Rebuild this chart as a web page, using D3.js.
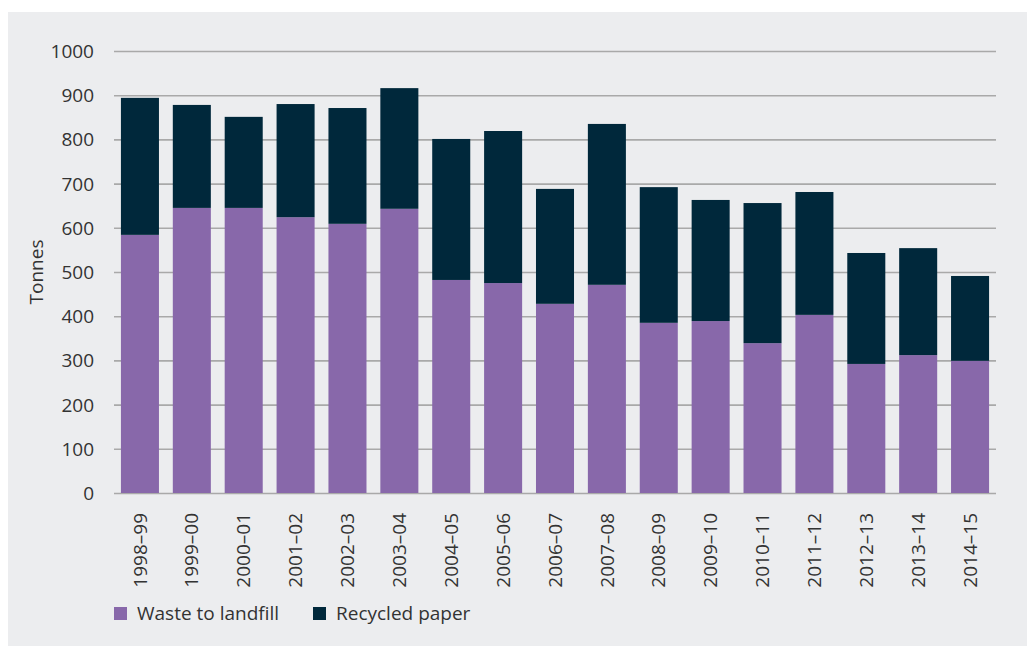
<!DOCTYPE html>
<html>
<head>
<meta charset="utf-8">
<script src="https://cdn.jsdelivr.net/npm/d3@7"></script>
<style>
  body { margin: 0; background: #fff; }
  text { font-family: "Open Sans", sans-serif; }
</style>
</head>
<body>
<script>
var years = ["1998\u201399", "1999\u201300", "2000\u201301", "2001\u201302", "2002\u201303", "2003\u201304",
             "2004\u201305", "2005\u201306", "2006\u201307", "2007\u201308", "2008\u201309", "2009\u201310",
             "2010\u201311", "2011\u201312", "2012\u201313", "2013\u201314", "2014\u201315"];
var landfill = [584, 645, 645, 624, 609, 643, 482, 475, 428, 471, 385, 389, 339, 403, 292, 312, 299];
var recycled = [310, 233, 206, 256, 262, 273, 319, 344, 260, 364, 307, 274, 317, 278, 251, 242, 192];
var yTicks = [0, 100, 200, 300, 400, 500, 600, 700, 800, 900, 1000];
var seriesNames = ["Waste to landfill", "Recycled paper"];
var colors = {"Waste to landfill": "#8868aa", "Recycled paper": "#00283b"};

var W = 1027, H = 646;
var margin = {top: 51, right: 31, bottom: 153, left: 114}
  , width = W - margin.left - margin.right
  , height = H - margin.top - margin.bottom;

var svg = d3.select("body").append("svg")
    .attr("width", W)
    .attr("height", H);

// grey panel
svg.append("rect")
    .attr("x", 8).attr("y", 12)
    .attr("width", W - 8).attr("height", H - 12)
    .style("fill", "#ecedef");

var g = svg.append("g")
    .attr("transform", "translate(" + margin.left + "," + margin.top + ")");

var rows = years.map(function (y, i) {
    return {year: y, "Waste to landfill": landfill[i], "Recycled paper": recycled[i]};
});
var stacked = d3.stack().keys(seriesNames)(rows);

var x = d3.scaleBand()
    .domain(years)
    .range([0, width])
    .paddingInner(0.267)
    .paddingOuter(0.1335);

var y = d3.scaleLinear()
    .domain([0, 1000])
    .range([height, 0]);

// gridlines + labels
var yAxis = g.append("g")
    .attr("class", "y axis")
    .call(d3.axisLeft(y).tickValues(yTicks).tickFormat(d3.format("d")).tickSize(-width).tickPadding(20));
yAxis.select(".domain").remove();
yAxis.selectAll("line").style("stroke", "#a9a9a9").style("stroke-width", 1.6);
yAxis.selectAll("text")
    .style("font-size", "19px")
    .style("fill", "#333")
    .attr("dy", "0.34em");

// bars
g.selectAll(".series")
    .data(stacked)
    .enter().append("g")
    .attr("class", "series")
    .style("fill", function (d) { return colors[d.key]; })
    .selectAll("rect")
    .data(function (d) { return d; })
    .enter().append("rect")
    .attr("x", function (d) { return x(d.data.year); })
    .attr("y", function (d) { return y(d[1]); })
    .attr("height", function (d) { return y(d[0]) - y(d[1]); })
    .attr("width", x.bandwidth());

// x labels
var xAxis = g.append("g")
    .attr("class", "x axis")
    .attr("transform", "translate(0," + height + ")")
    .call(d3.axisBottom(x).tickSize(0).tickPadding(0));
xAxis.select(".domain").remove();
xAxis.selectAll("text")
    .style("font-size", "19px")
    .style("fill", "#333")
    .style("text-anchor", "end")
    .attr("transform", "translate(0,20)rotate(-90)")
    .attr("x", 0)
    .attr("y", 0)
    .attr("dy", "0.35em");

// y title
g.append("text")
    .attr("text-anchor", "middle")
    .attr("transform", "translate(" + (-71) + "," + (height / 2) + ")rotate(-90)")
    .style("font-size", "19px")
    .style("fill", "#333")
    .text("Tonnes");

// legend
var legendX = [0, 199];
var legend = g.append("g")
    .attr("class", "legend")
    .attr("transform", "translate(0," + (height + 114) + ")");
seriesNames.forEach(function (key, i) {
    var lg = legend.append("g").attr("transform", "translate(" + legendX[i] + ",0)");
    lg.append("rect")
        .attr("x", 0).attr("y", 0)
        .attr("width", 13).attr("height", 13)
        .style("fill", colors[key]);
    lg.append("text")
        .attr("x", 23).attr("y", 13)
        .style("font-size", "19px")
        .style("fill", "#333")
        .text(key);
});
</script>
</body>
</html>
